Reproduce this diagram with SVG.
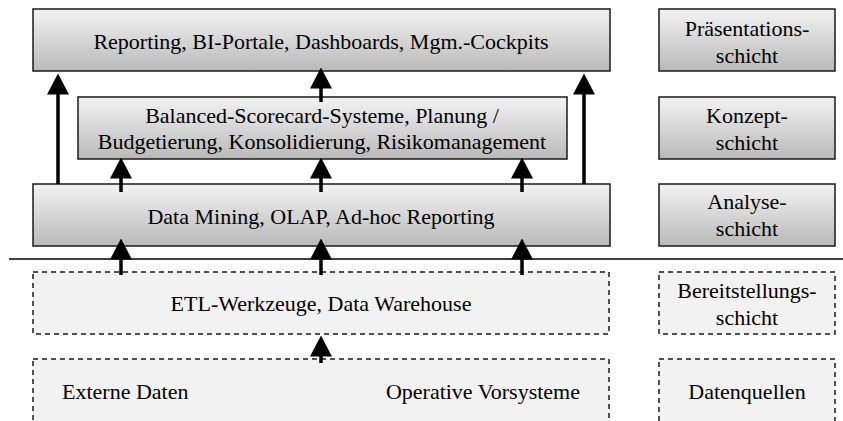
<svg xmlns="http://www.w3.org/2000/svg" width="843" height="421" viewBox="0 0 843 421">
<defs>
<linearGradient id="g" x1="0" y1="0" x2="0" y2="1">
<stop offset="0" stop-color="#f3f3f3"/>
<stop offset="1" stop-color="#b9b9b9"/>
</linearGradient>
<marker id="ah" viewBox="0 0 21 22" refX="0.5" refY="11" markerWidth="21" markerHeight="22" markerUnits="userSpaceOnUse" orient="auto">
<path d="M0,0 L21,11 L0,22 Z" fill="#000"/>
</marker>
</defs>
<style>
.b{fill:url(#g);stroke:#1a1a1a;stroke-width:1.5}
.d{fill:#f2f2f2;stroke:#1a1a1a;stroke-width:1.5;stroke-dasharray:5,4}
text{font-family:"Liberation Serif","Times New Roman",serif;font-size:22px;fill:#000;text-anchor:middle}
.c line{stroke:#000;stroke-width:3.5}
</style>
<g id="praesentation"><rect class="b" x="33" y="9" width="577" height="62"/><text x="321" y="49">Reporting, BI-Portale, Dashboards, Mgm.-Cockpits</text></g>
<g id="praesentation-label"><rect class="b" x="659" y="9" width="176" height="62"/><text x="747" y="36">Präsentations-</text><text x="747" y="63">schicht</text></g>
<g id="konzept"><rect class="b" x="78" y="97" width="489" height="62"/><text x="322" y="123">Balanced-Scorecard-Systeme, Planung /</text><text x="322" y="149">Budgetierung, Konsolidierung, Risikomanagement</text></g>
<g id="konzept-label"><rect class="b" x="659" y="97" width="176" height="62"/><text x="747" y="123">Konzept-</text><text x="747" y="150">schicht</text></g>
<g id="analyse"><rect class="b" x="33" y="184" width="577" height="62"/><text x="321" y="224">Data Mining, OLAP, Ad-hoc Reporting</text></g>
<g id="analyse-label"><rect class="b" x="659" y="184" width="176" height="62"/><text x="747" y="209">Analyse-</text><text x="747" y="236">schicht</text></g>
<g id="trennlinie"><line x1="9" y1="259" x2="843" y2="259" stroke="#000" stroke-width="1.5"/></g>
<g id="etl"><rect class="d" x="33" y="272" width="576" height="62"/><text x="321" y="311">ETL-Werkzeuge, Data Warehouse</text></g>
<g id="etl-label"><rect class="d" x="659" y="272" width="176" height="62"/><text x="747" y="298">Bereitstellungs-</text><text x="747" y="325">schicht</text></g>
<g id="quellen"><rect class="d" x="33" y="359" width="576" height="80"/><text x="62" y="399" style="text-anchor:start">Externe Daten</text><text x="580" y="399" style="text-anchor:end">Operative Vorsysteme</text></g>
<g id="quellen-label"><rect class="d" x="659" y="359" width="176" height="80"/><text x="747" y="399">Datenquellen</text></g>
<g id="connectors" class="c">
<line x1="58" y1="184" x2="58" y2="94" marker-end="url(#ah)"/>
<line x1="584" y1="184" x2="584" y2="94" marker-end="url(#ah)"/>
<line x1="321" y1="102" x2="321" y2="88" marker-end="url(#ah)"/>
<line x1="121" y1="192" x2="121" y2="178" marker-end="url(#ah)"/>
<line x1="321" y1="192" x2="321" y2="178" marker-end="url(#ah)"/>
<line x1="522" y1="192" x2="522" y2="178" marker-end="url(#ah)"/>
<line x1="121" y1="275" x2="121" y2="259" marker-end="url(#ah)"/>
<line x1="321" y1="275" x2="321" y2="259" marker-end="url(#ah)"/>
<line x1="522" y1="275" x2="522" y2="259" marker-end="url(#ah)"/>
<line x1="321" y1="363" x2="321" y2="356" marker-end="url(#ah)"/>
</g>
</svg>
